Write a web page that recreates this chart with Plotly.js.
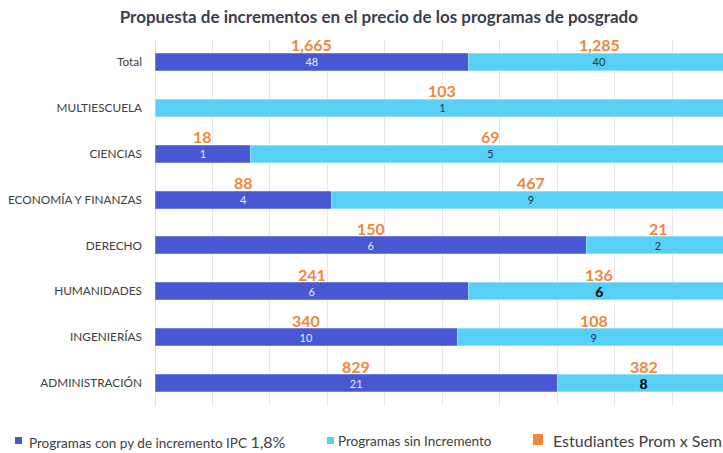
<!DOCTYPE html>
<html>
<head>
<meta charset="utf-8">
<script src="https://cdn.plot.ly/plotly-3.0.1.min.js"></script>
<style>html,body{margin:0;padding:0;background:#fff;}#chart{width:723px;height:453px;}</style>
</head>
<body>
<div id="chart"></div>
<script>
// Categories, top to bottom
const categories = ['Total', 'MULTIESCUELA', 'CIENCIAS', 'ECONOMÍA Y FINANZAS', 'DERECHO', 'HUMANIDADES', 'INGENIERÍAS', 'ADMINISTRACIÓN'];
// Programas con py de incremento IPC 1,8% (bar lengths and labels)
const incrementoValues = [48, 0, 1, 4, 6, 6, 10, 21];
const incrementoLabels = ['48', '', '1', '4', '6', '6', '10', '21'];
// Programas sin Incremento (bar lengths as drawn, labels as printed)
const sinIncrementoValues = [40, 1, 5, 9, 2, 5, 9, 9];
const sinIncrementoLabels = ['40', '1', '5', '9', '2', '6', '9', '8'];
// Estudiantes Prom x Sem for each segment
const estudiantesIncremento = ['1,665', '', '18', '88', '150', '241', '340', '829'];
const estudiantesSin = ['1,285', '103', '69', '467', '21', '136', '108', '382'];
// Legend names
const seriesNames = ['Programas con py de incremento IPC ', 'Programas sin Incremento', 'Estudiantes Prom x Sem'];

const font = 'Lato, "Open Sans", sans-serif';
const darkBlue = '#4758d2';
const lightBlue = '#58cff5';
const orange = '#f0873a';

const edited = sinIncrementoLabels.map((l, i) => l !== String(sinIncrementoValues[i]));

const traces = [
  {
    type: 'bar', orientation: 'h', name: seriesNames[0] + '1,8%',
    y: categories, x: incrementoValues, text: incrementoLabels,
    texttemplate: '%{text}', textposition: 'inside', insidetextanchor: 'middle', constraintext: 'none', textangle: 0,
    textfont: {family: font, size: 11, color: '#e8ecff'},
    marker: {color: darkBlue, line: {color: '#6f7fe0', width: 1}},
    hoverinfo: 'none'
  },
  {
    type: 'bar', orientation: 'h', name: seriesNames[1],
    y: categories, x: sinIncrementoValues, text: sinIncrementoLabels,
    texttemplate: '%{text}', textposition: 'inside', insidetextanchor: 'middle', constraintext: 'none', textangle: 0,
    textfont: {family: font, size: edited.map(e => e ? 14 : 11), color: edited.map(e => e ? '#000000' : '#1f3550'), weight: edited.map(e => e ? 'bold' : 'normal')},
    marker: {color: lightBlue, line: {color: '#8fe0f8', width: 1}},
    hoverinfo: 'none'
  }
];

// Orange labels above each segment, positioned from the data (percent scale)
const annotations = [];
categories.forEach((c, i) => {
  const tot = incrementoValues[i] + sinIncrementoValues[i];
  const d = incrementoValues[i] / tot * 100;
  const l = sinIncrementoValues[i] / tot * 100;
  if (estudiantesIncremento[i]) annotations.push({x: d / 2, y: c, text: estudiantesIncremento[i]});
  if (estudiantesSin[i]) annotations.push({x: d + l / 2, y: c, text: estudiantesSin[i]});
});
annotations.forEach(a => Object.assign(a, {
  xref: 'x', yref: 'y', showarrow: false, yshift: 17,
  font: {family: font, size: 16, color: orange, weight: 'bold'}
}));

// Manual legend (plot area spans x 155..723 px, y 39..406 px)
const PL = 155, PW = 568, PB = 406, PH = 367;
const px = v => (v - PL) / PW;
const py = v => (PB - v) / PH;
const legendItems = [
  {sq: [15, 22], sy: [437, 444], color: darkBlue, tx: 27, text: seriesNames[0] + '<span style="font-size:16px">1,8%</span>', size: 13.5, ty: 441},
  {sq: [327, 334], sy: [437, 444], color: lightBlue, tx: 336, text: seriesNames[1], size: 13.5, ty: 441},
  {sq: [533, 543], sy: [434, 445], color: orange, tx: 551, text: seriesNames[2], size: 16, ty: 440}
];
const shapes = [];
legendItems.forEach(it => {
  shapes.push({type: 'rect', xref: 'paper', yref: 'paper', x0: px(it.sq[0]), x1: px(it.sq[1]), y0: py(it.sy[1]), y1: py(it.sy[0]),
    fillcolor: it.color, line: {width: 0}});
  annotations.push({xref: 'paper', yref: 'paper', x: px(it.tx), y: py(it.ty), xanchor: 'left', yanchor: 'middle',
    showarrow: false, text: it.text, font: {family: font, size: it.size, color: '#404040'}});
});

const layout = {
  width: 723, height: 453,
  margin: {l: 155, r: 0, t: 39, b: 47},
  paper_bgcolor: '#ffffff', plot_bgcolor: '#ffffff',
  barmode: 'stack', barnorm: 'percent', bargap: 0.63,
  font: {family: font, color: '#404040'},
  title: {
    text: '<b>Propuesta de incrementos en el precio de los programas de posgrado</b>',
    font: {family: font, size: 17, color: '#3a3e50'},
    x: 0.524, xanchor: 'center', xref: 'container', y: 0.962, yanchor: 'middle', yref: 'container'
  },
  xaxis: {
    range: [0, 98.8], dtick: 10, showticklabels: false, showgrid: true, gridcolor: '#e6e6ef', gridwidth: 1,
    zeroline: true, zerolinecolor: '#e0e0ea', showline: false, fixedrange: true
  },
  yaxis: {
    range: [7.5, -0.5], autorange: false, type: 'category', categoryorder: 'array', categoryarray: categories,
    showgrid: false, zeroline: false, showline: false,
    ticks: '', ticklabelstandoff: 12,
    tickfont: {family: font, size: 11.8, color: '#404040'}
  },
  showlegend: false,
  annotations: annotations,
  shapes: shapes
};

Plotly.newPlot('chart', traces, layout, {displayModeBar: false, staticPlot: true});
</script>
</body>
</html>
